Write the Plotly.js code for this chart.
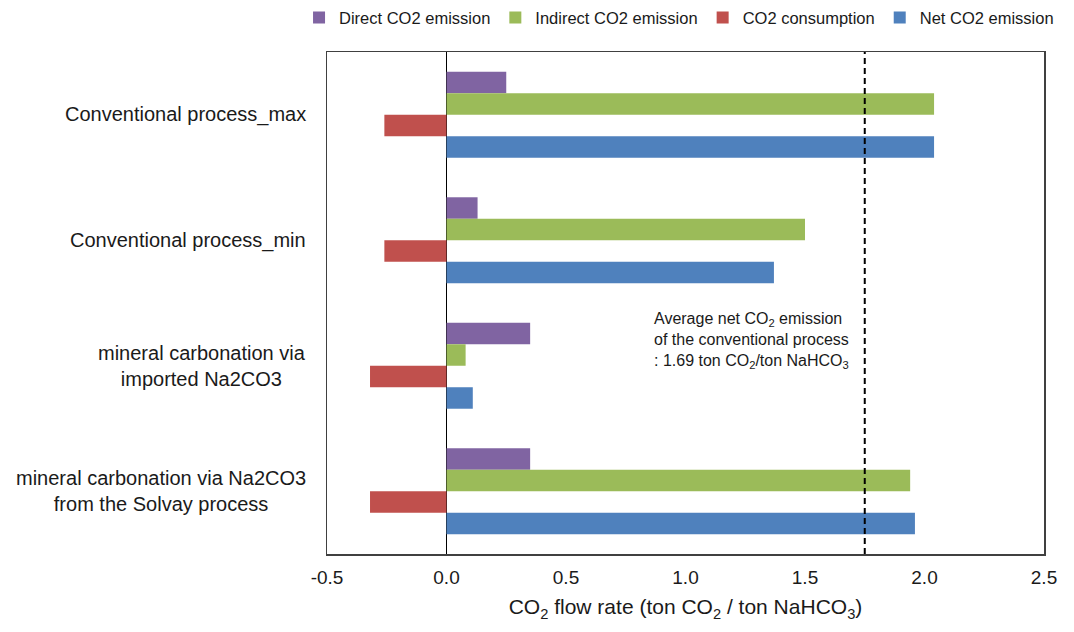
<!DOCTYPE html>
<html>
<head>
<meta charset="utf-8">
<script src="https://cdn.plot.ly/plotly-3.0.1.min.js"></script>
<style>html,body{margin:0;padding:0;background:#fff;}#chart{width:1074px;height:632px;}</style>
</head>
<body>
<div id="chart"></div>
<script>
const categories = [
  "Conventional process_max",
  "Conventional process_min",
  "mineral carbonation via<br>imported Na2CO3",
  "mineral carbonation via Na2CO3<br>from the Solvay process"
];
const seriesNames = ["Direct CO2 emission", "Indirect CO2 emission", "CO2 consumption", "Net CO2 emission"];
const directCO2 = [0.25, 0.13, 0.35, 0.35];
const indirectCO2 = [2.04, 1.50, 0.08, 1.94];
const consumptionCO2 = [-0.26, -0.26, -0.32, -0.32];
const netCO2 = [2.04, 1.37, 0.11, 1.96];
const averageNetConventional = 1.75;
const xTickValues = [-0.5, 0.0, 0.5, 1.0, 1.5, 2.0, 2.5];
const xTickLabels = ["-0.5", "0.0", "0.5", "1.0", "1.5", "2.0", "2.5"];

const colors = ["#8064A2", "#9BBB59", "#C0504D", "#4F81BD"];
const seriesValues = [directCO2, indirectCO2, consumptionCO2, netCO2];

const data = seriesValues.map((vals, i) => ({
  type: "bar",
  orientation: "h",
  name: seriesNames[i],
  y: categories,
  x: vals,
  marker: {color: colors[i], line: {width: 0}},
  hoverinfo: "x+name"
}));

const font = "Liberation Sans, Arial, sans-serif";

const annotations = categories.map(c => ({
  text: c,
  xref: "paper", yref: "y",
  x: -0.026, y: c,
  xanchor: "right", yanchor: "middle",
  align: "center",
  showarrow: false,
  font: {family: font, size: 20, color: "#1a1a1a"}
}));
annotations.push({
  text: "Average net CO<sub>2</sub> emission<br>of the conventional process<br>: 1.69 ton CO<sub>2</sub>/ton NaHCO<sub>3</sub>",
  xref: "x", yref: "paper",
  x: 0.86, y: 0.426,
  xanchor: "left", yanchor: "middle",
  align: "left",
  showarrow: false,
  font: {family: font, size: 16, color: "#1a1a1a"}
});

const layout = {
  width: 1074, height: 632,
  margin: {l: 327, r: 30, t: 52, b: 78, autoexpand: false},
  paper_bgcolor: "#fff", plot_bgcolor: "#fff",
  barmode: "group",
  bargap: 0.315,
  bargroupgap: 0,
  font: {family: font, color: "#1a1a1a"},
  xaxis: {
    range: [-0.5, 2.5],
    tickvals: xTickValues,
    ticktext: xTickLabels,
    ticks: "",
    ticklabelstandoff: 6,
    showgrid: false,
    zeroline: true, zerolinecolor: "#000", zerolinewidth: 1.5,
    showline: true, linecolor: "#404040", linewidth: 1.5, mirror: true,
    tickfont: {family: font, size: 19, color: "#1a1a1a"},
    title: {text: "CO<sub>2</sub> flow rate (ton CO<sub>2</sub> / ton NaHCO<sub>3</sub>)", font: {family: font, size: 21, color: "#1a1a1a"}, standoff: 12},
    fixedrange: true
  },
  yaxis: {
    type: "category",
    autorange: "reversed",
    showticklabels: false,
    ticks: "",
    showgrid: false,
    showline: true, linecolor: "#404040", linewidth: 1.5, mirror: true,
    fixedrange: true
  },
  legend: {
    orientation: "h",
    xref: "paper", yref: "paper",
    x: -0.039, xanchor: "left",
    y: 1.068, yanchor: "middle",
    font: {family: font, size: 16.5, color: "#1a1a1a"},
    traceorder: "normal",
    itemwidth: 30,
    tracegroupgap: 0
  },
  shapes: [{
    type: "line", xref: "x", yref: "paper",
    x0: averageNetConventional, x1: averageNetConventional, y0: 0, y1: 1,
    line: {color: "#000", width: 2, dash: "6px,4px"}
  }],
  annotations: annotations,
  showlegend: true
};

Plotly.newPlot("chart", data, layout, {displayModeBar: false, staticPlot: true});
</script>
</body>
</html>
